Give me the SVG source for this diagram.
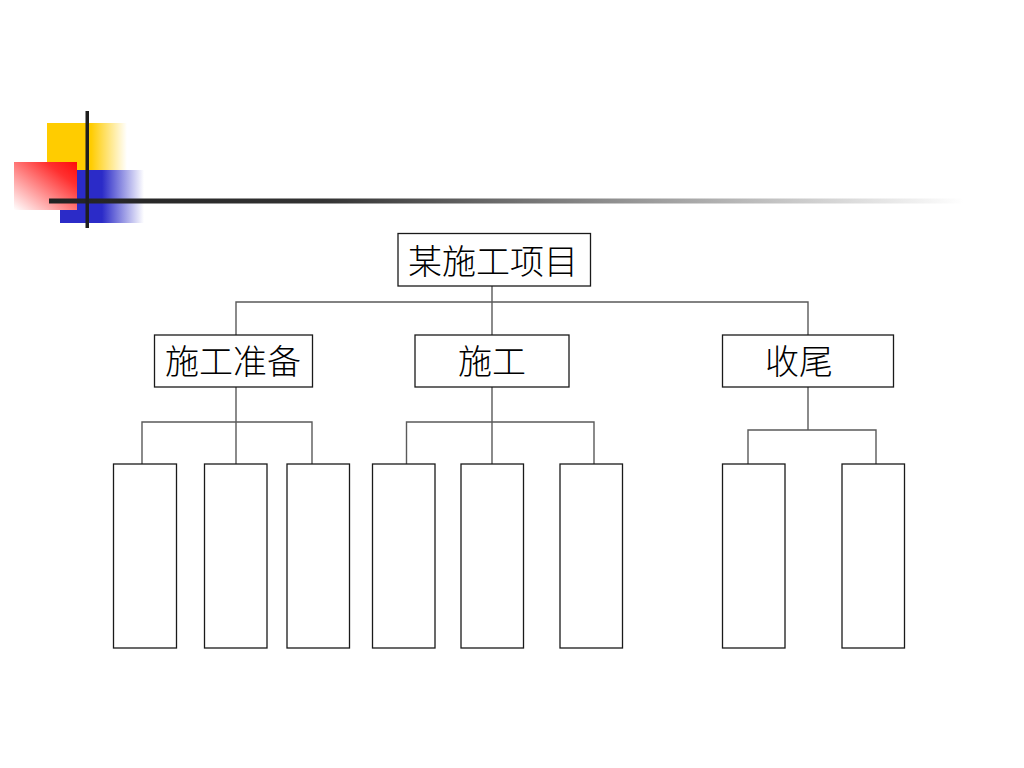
<svg xmlns="http://www.w3.org/2000/svg" width="1024" height="768" viewBox="0 0 1024 768">
  <defs>
    <linearGradient id="gYellow" x1="0" y1="0" x2="1" y2="0">
      <stop offset="0" stop-color="#FFCC00"/>
      <stop offset="0.55" stop-color="#FFCC00"/>
      <stop offset="1" stop-color="#FFCC00" stop-opacity="0"/>
    </linearGradient>
    <linearGradient id="gBlue" x1="0" y1="0" x2="1" y2="0">
      <stop offset="0" stop-color="#2B2BC8"/>
      <stop offset="0.5" stop-color="#2B2BC8"/>
      <stop offset="1" stop-color="#2B2BC8" stop-opacity="0"/>
    </linearGradient>
    <linearGradient id="gRed" x1="1" y1="0" x2="0" y2="1">
      <stop offset="0" stop-color="#FF0A0A"/>
      <stop offset="0.25" stop-color="#FF3030"/>
      <stop offset="1" stop-color="#FFFFFF"/>
    </linearGradient>
    <linearGradient id="gLine" x1="0" y1="0" x2="1" y2="0">
      <stop offset="0" stop-color="#222222"/>
      <stop offset="0.3" stop-color="#333333"/>
      <stop offset="1" stop-color="#FFFFFF"/>
    </linearGradient>
  </defs>
  <style>
    .box { fill: #FFFFFF; stroke: #1A1A1A; stroke-width: 1.3; }
    .conn { fill: none; stroke: #5A5A5A; stroke-width: 1.4; }
    .lbl { font-family: "Noto Sans CJK SC", "Noto Sans CJK JP", sans-serif; font-size: 34px; font-weight: 300; fill: #000000; text-anchor: middle; dominant-baseline: central; }
  </style>
  <rect width="1024" height="768" fill="#FFFFFF"/>

  <g id="decoration">
    <rect x="47" y="123" width="80" height="47" fill="url(#gYellow)"/>
    <rect x="60" y="170" width="84" height="53" fill="url(#gBlue)"/>
    <rect x="14" y="162" width="63" height="48" fill="url(#gRed)"/>
    <rect x="49" y="198.5" width="915" height="5" fill="url(#gLine)"/>
    <rect x="85.5" y="111" width="3.5" height="117" fill="#1E1E1E"/>
  </g>

  <g id="connectors">
    <path class="conn" d="M492 286 V302 M236 335 V302 H808 V335 M492 302 V335"/>
    <path class="conn" d="M236 387 V464 M142 464 V422 H312 V464"/>
    <path class="conn" d="M492 387 V464 M406.5 464 V422 H594 V464"/>
    <path class="conn" d="M808 387 V430 M748 464 V430 H876 V464"/>
  </g>

  <g id="root">
    <rect class="box" x="398" y="233.5" width="192.5" height="52.5"/>
    <text class="lbl" x="493" y="259.5">某施工项目</text>
  </g>
  <g id="prep">
    <rect class="box" x="154.5" y="335" width="158" height="52"/>
    <text class="lbl" x="233" y="359.5">施工准备</text>
  </g>
  <g id="build">
    <rect class="box" x="415" y="335" width="154" height="52"/>
    <text class="lbl" x="492" y="359.5">施工</text>
  </g>
  <g id="finish">
    <rect class="box" x="722.5" y="335" width="171" height="52"/>
    <text class="lbl" x="799" y="359.5">收尾</text>
  </g>

  <g id="leaf1"><rect class="box" x="113.5" y="464" width="63" height="184"/></g>
  <g id="leaf2"><rect class="box" x="204.5" y="464" width="62.5" height="184"/></g>
  <g id="leaf3"><rect class="box" x="287" y="464" width="62.5" height="184"/></g>
  <g id="leaf4"><rect class="box" x="372.5" y="464" width="62.5" height="184"/></g>
  <g id="leaf5"><rect class="box" x="461" y="464" width="62.5" height="184"/></g>
  <g id="leaf6"><rect class="box" x="560" y="464" width="62.5" height="184"/></g>
  <g id="leaf7"><rect class="box" x="722.5" y="464" width="62.5" height="184"/></g>
  <g id="leaf8"><rect class="box" x="842" y="464" width="62.5" height="184"/></g>
</svg>
